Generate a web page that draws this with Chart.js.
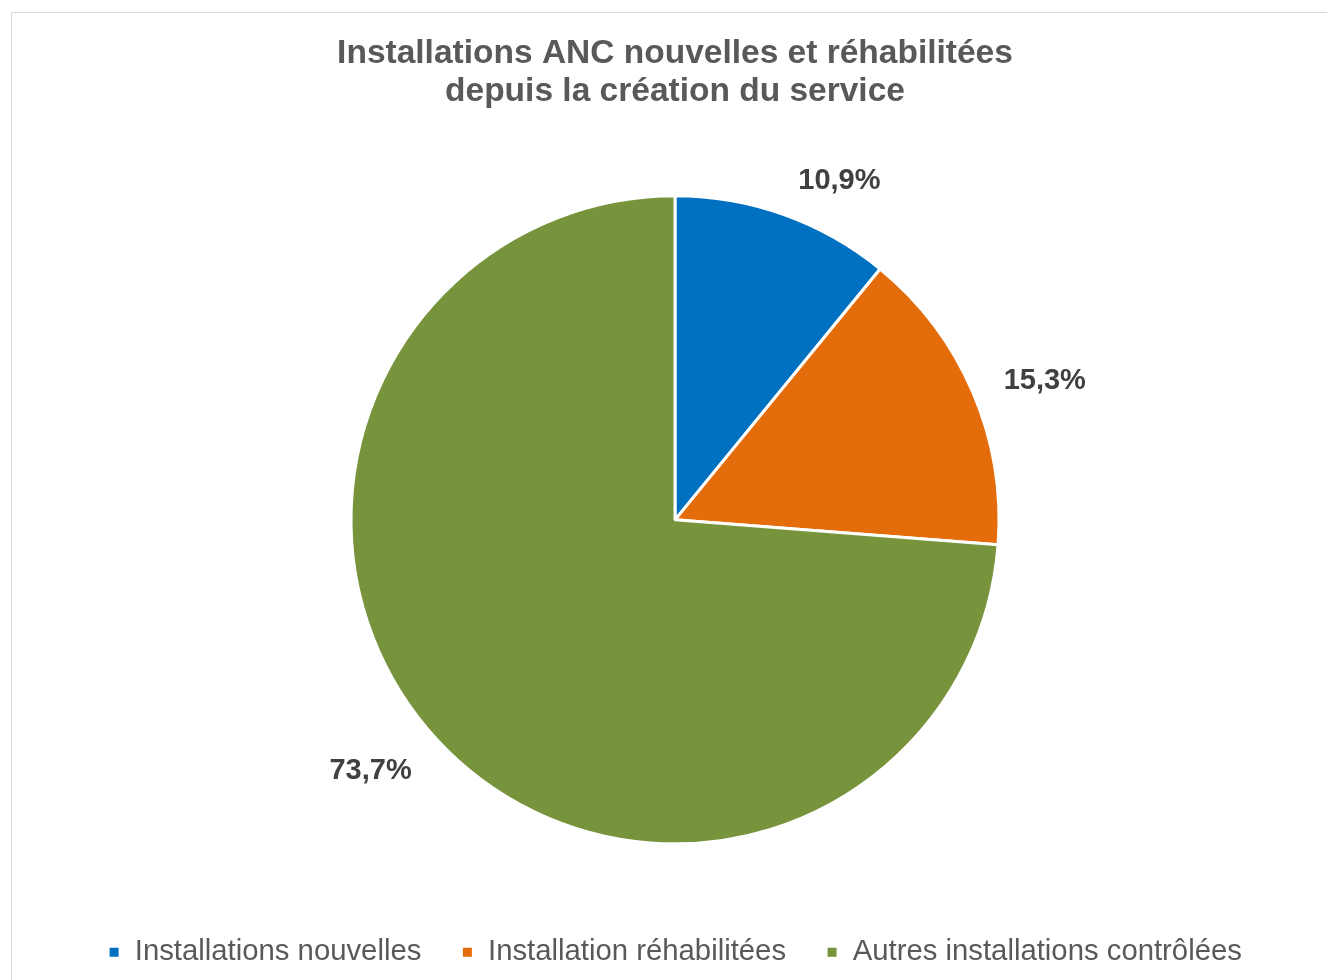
<!DOCTYPE html>
<html>
<head>
<meta charset="utf-8">
<script src="https://cdn.jsdelivr.net/npm/chart.js@4.4.0/dist/chart.umd.min.js"></script>
<style>
html,body{margin:0;padding:0;background:#fff;overflow:hidden;}
#wrap{position:absolute;left:0;top:0;width:1327px;height:980px;}
#frame{position:absolute;left:11px;top:12px;width:1400px;height:1100px;border:1px solid #d9d9d9;box-sizing:border-box;}
canvas{position:absolute;left:0;top:0;}
</style>
</head>
<body>
<div id="wrap">
<div id="frame"></div>
<canvas id="c" width="1327" height="980"></canvas>
</div>
<script>
const titleLines = ["Installations ANC nouvelles et réhabilitées", "depuis la création du service"];
const categories = ["Installations nouvelles", "Installation réhabilitées", "Autres installations contrôlées"];
const values = [10.9, 15.3, 73.7];
const labelTexts = ["10,9%", "15,3%", "73,7%"];
const colors = ["#0070C0", "#E46C0A", "#77933C"];

const outsideLabels = {
  id: 'outsideLabels',
  afterDatasetsDraw(chart) {
    const ctx = chart.ctx;
    const meta = chart.getDatasetMeta(0);
    ctx.save();
    ctx.font = 'bold 29px "Liberation Sans", Arial, sans-serif';
    ctx.fillStyle = '#404040';
    ctx.textAlign = 'center';
    ctx.textBaseline = 'middle';
    meta.data.forEach((arc, i) => {
      const p = arc.getProps(['x','y','startAngle','endAngle','outerRadius'], true);
      const mid = (p.startAngle + p.endAngle) / 2;
      const R = p.outerRadius + 28;
      const ax = p.x + Math.cos(mid) * R;
      const ay = p.y + Math.sin(mid) * R;
      const text = labelTexts[i];
      const w = ctx.measureText(text).width;
      const h = 24;
      const s = Math.cos(mid), c = -Math.sin(mid);
      const kx = Math.max(-1, Math.min(1, s * 3));
      const ky = Math.max(-1, Math.min(1, c * 1));
      const cx = ax + (w / 2 + 5) * kx;
      const cy = ay - (h / 2) * ky + 4;
      ctx.fillText(text, cx, cy);
    });
    ctx.restore();
  }
};

new Chart(document.getElementById('c'), {
  type: 'pie',
  data: {
    labels: categories,
    datasets: [{
      data: values,
      backgroundColor: colors,
      borderColor: '#ffffff',
      borderWidth: 3
    }]
  },
  options: {
    responsive: false,
    animation: false,
    radius: 324,
    layout: { padding: { left: 23, right: 0, top: 0, bottom: 3 } },
    plugins: {
      title: {
        display: true,
        text: titleLines,
        color: '#595959',
        font: { family: '"Liberation Sans", Arial, sans-serif', size: 33.5, weight: 'bold', lineHeight: 1.134 },
        padding: { top: 35, bottom: 31 }
      },
      legend: {
        position: 'bottom',
        labels: {
          color: '#595959',
          font: { family: '"Liberation Sans", Arial, sans-serif', size: 29.3 },
          boxWidth: 12,
          boxHeight: 12,
          padding: 40
        }
      },
      tooltip: { enabled: false }
    }
  },
  plugins: [outsideLabels]
});
</script>
</body>
</html>
